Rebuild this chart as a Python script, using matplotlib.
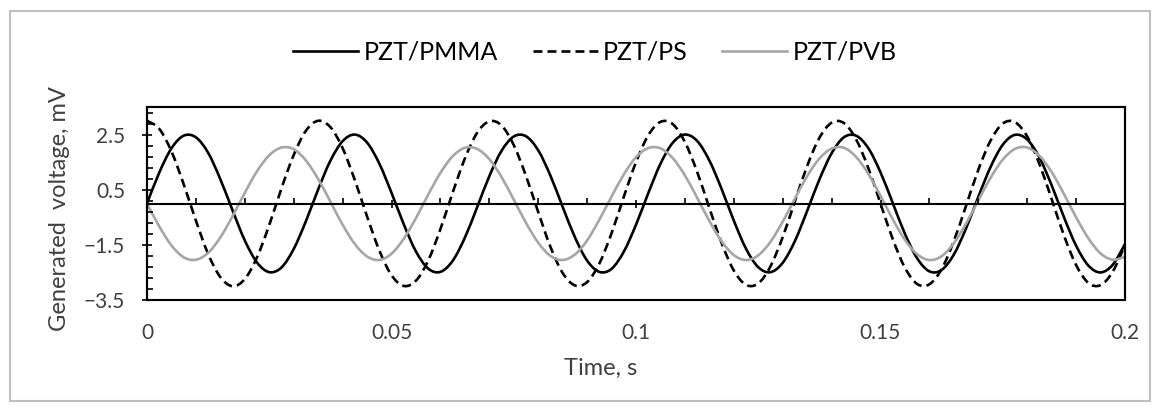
import matplotlib
matplotlib.use("Agg")
import matplotlib.pyplot as plt
from matplotlib.patches import Rectangle, PathPatch
from matplotlib.path import Path
from matplotlib.lines import Line2D
from matplotlib.ticker import MultipleLocator, FixedLocator

plt.rcParams['font.family'] = ['Lato', 'DejaVu Sans']

# sampled every 2.5 ms
time_s = [0, 0.0025, 0.005, 0.0075, 0.01, 0.0125, 0.015, 0.0175, 0.02, 0.0225,
          0.025, 0.0275, 0.03, 0.0325, 0.035, 0.0375, 0.04, 0.0425, 0.045, 0.0475,
          0.05, 0.0525, 0.055, 0.0575, 0.06, 0.0625, 0.065, 0.0675, 0.07, 0.0725,
          0.075, 0.0775, 0.08, 0.0825, 0.085, 0.0875, 0.09, 0.0925, 0.095, 0.0975,
          0.1, 0.1025, 0.105, 0.1075, 0.11, 0.1125, 0.115, 0.1175, 0.12, 0.1225,
          0.125, 0.1275, 0.13, 0.1325, 0.135, 0.1375, 0.14, 0.1425, 0.145, 0.1475,
          0.15, 0.1525, 0.155, 0.1575, 0.16, 0.1625, 0.165, 0.1675, 0.17, 0.1725,
          0.175, 0.1775, 0.18, 0.1825, 0.185, 0.1875, 0.19, 0.1925, 0.195, 0.1975,
          0.2]

pmma = [0.00, 1.12, 2.00, 2.46, 2.40, 1.84, 0.88, -0.25, -1.34, -2.14,
        -2.49, -2.32, -1.65, -0.64, 0.51, 1.55, 2.26, 2.50, 2.21, 1.45,
        0.39, -0.75, -1.74, -2.36, -2.48, -2.08, -1.24, -0.14, 0.99, 1.91,
        2.43, 2.44, 1.93, 1.01, -0.12, -1.22, -2.07, -2.48, -2.37, -1.75,
        -0.77, 0.37, 1.44, 2.20, 2.50, 2.27, 1.56, 0.53, -0.62, -1.64,
        -2.31, -2.49, -2.15, -1.36, -0.27, 0.87, 1.82, 2.40, 2.46, 2.01,
        1.13, 0.02, -1.10, -1.99, -2.46, -2.41, -1.85, -0.90, 0.24, 1.32,
        2.13, 2.49, 2.32, 1.67, 0.66, -0.49, -1.53, -2.25, -2.50, -2.22,
        -1.47]

ps = [3.00, 2.71, 1.89, 0.70, -0.62, -1.83, -2.67, -3.00, -2.74, -1.95,
      -0.78, 0.55, 1.76, 2.64, 3.00, 2.77, 2.01, 0.85, -0.47, -1.70,
      -2.60, -2.99, -2.80, -2.07, -0.93, 0.39, 1.63, 2.56, 2.98, 2.83,
      2.12, 1.00, -0.31, -1.57, -2.52, -2.97, -2.85, -2.18, -1.08, 0.24,
      1.50, 2.47, 2.96, 2.88, 2.23, 1.15, -0.16, -1.43, -2.43, -2.95,
      -2.90, -2.28, -1.22, 0.08, 1.36, 2.38, 2.93, 2.92, 2.33, 1.29,
      0.00, -1.29, -2.33, -2.92, -2.93, -2.38, -1.36, -0.08, 1.22, 2.28,
      2.90, 2.95, 2.43, 1.43, 0.16, -1.15, -2.23, -2.88, -2.96, -2.47,
      -1.50]

pvb = [0.00, -0.83, -1.52, -1.95, -2.04, -1.79, -1.23, -0.46, 0.39, 1.17,
       1.75, 2.03, 1.97, 1.56, 0.89, 0.07, -0.77, -1.47, -1.92, -2.05,
       -1.82, -1.28, -0.53, 0.32, 1.11, 1.71, 2.02, 1.98, 1.61, 0.96,
       0.14, -0.70, -1.42, -1.90, -2.05, -1.85, -1.34, -0.59, 0.25, 1.05,
       1.68, 2.01, 2.00, 1.65, 1.02, 0.21, -0.63, -1.37, -1.87, -2.05,
       -1.88, -1.39, -0.66, 0.18, 0.99, 1.63, 1.99, 2.02, 1.69, 1.08,
       0.28, -0.57, -1.32, -1.84, -2.05, -1.91, -1.44, -0.73, 0.11, 0.93,
       1.59, 1.98, 2.03, 1.73, 1.14, 0.35, -0.50, -1.26, -1.81, -2.04,
       -1.93]

x_ticks = [0, 0.05, 0.1, 0.15, 0.2]
x_tick_labels = ['0', '0.05', '0.1', '0.15', '0.2']
y_ticks = [-3.5, -1.5, 0.5, 2.5]
y_tick_labels = ['\u22123.5', '\u22121.5', '0.5', '2.5']
y_minor = [-3.5 + 0.4 * i for i in range(18)]


def smooth_path(xs, ys):
    # Excel-style "smoothed line": bezier segments through every data point
    n = len(xs)
    verts = [(xs[0], ys[0])]
    codes = [Path.MOVETO]
    for i in range(n - 1):
        i0 = max(i - 1, 0)
        i3 = min(i + 2, n - 1)
        c1 = (xs[i] + (xs[i + 1] - xs[i0]) / 6, ys[i] + (ys[i + 1] - ys[i0]) / 6)
        c2 = (xs[i + 1] - (xs[i3] - xs[i]) / 6, ys[i + 1] - (ys[i3] - ys[i]) / 6)
        verts += [c1, c2, (xs[i + 1], ys[i + 1])]
        codes += [Path.CURVE4] * 3
    return Path(verts, codes)


W, H = 1161, 412
fig = plt.figure(figsize=(W / 100, H / 100), dpi=100)
ax = fig.add_axes([147 / W, 1 - 300 / H, (1125 - 147) / W, (300 - 107) / H])

lw = 1.9
dash = (0, (3.4, 1.9))
series = [
    (pmma, 'PZT/PMMA', 'black', 'solid'),
    (ps, 'PZT/PS', 'black', dash),
    (pvb, 'PZT/PVB', '#A6A6A6', 'solid'),
]
handles = []
for vals, name, col, ls in series:
    ax.add_patch(PathPatch(smooth_path(time_s, vals), fill=False, edgecolor=col,
                           lw=lw, linestyle=ls, capstyle='butt', joinstyle='round'))
    handles.append(Line2D([], [], color=col, lw=lw, linestyle=ls, label=name))

ax.set_xlim(0, 0.2)
ax.set_ylim(-3.5, 3.5)

# x axis crosses at 0, labels stay at the bottom
ax.spines['bottom'].set_position(('data', 0))
for s in ax.spines.values():
    s.set_linewidth(1.5)
ax.add_patch(Rectangle((0, 0), 1, 1, transform=ax.transAxes, fill=False,
                       edgecolor='black', lw=1.5, clip_on=False, zorder=5))

ax.set_xticks(x_ticks)
ax.set_xticklabels(x_tick_labels)
ax.xaxis.set_minor_locator(MultipleLocator(0.01))
ax.set_yticks(y_ticks)
ax.set_yticklabels(y_tick_labels)
ax.yaxis.set_minor_locator(FixedLocator(y_minor))

ax.tick_params(axis='x', which='major', direction='inout', length=6, width=1.2,
               pad=82.7, labelsize=15, colors='black', labelcolor='#404040')
ax.tick_params(axis='x', which='minor', direction='in', length=4, width=1.2)
ax.tick_params(axis='y', which='major', direction='inout', length=7, width=1.2,
               pad=12.3, labelsize=15, labelcolor='#404040')
ax.tick_params(axis='y', which='minor', direction='in', length=4, width=1.2)

ax.set_xlabel('Time, s', fontsize=17, color='#404040', va='center')
ax.xaxis.set_label_coords((601 - 147) / 978, (300 - 368) / 193)
ax.set_ylabel('Generated  voltage, mV', fontsize=17, color='#404040', va='center')
ax.yaxis.set_label_coords((60 - 147) / 978, (300 - 209) / 193)

fig.legend(handles=handles, loc='center', bbox_to_anchor=(595 / W, 1 - 52 / H),
           ncol=3, frameon=False, fontsize=18, handlelength=2.6,
           handletextpad=0.2, columnspacing=1.4)

# chart area border
fig.patches.append(Rectangle((10 / W, 1 - 401 / H), 1140 / W, 390 / H,
                             transform=fig.transFigure, fill=False,
                             edgecolor='#BFBFBF', lw=1.5))

fig.savefig('out.png', dpi=100)
